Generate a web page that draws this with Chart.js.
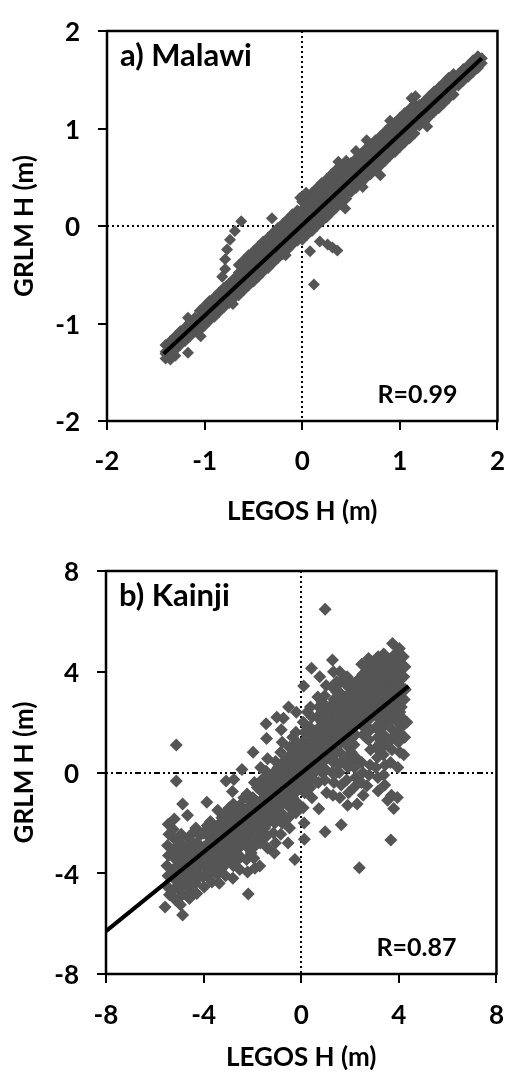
<!DOCTYPE html>
<html>
<head>
<meta charset="utf-8">
<script src="https://cdn.jsdelivr.net/npm/chart.js@4.4.1/dist/chart.umd.min.js"></script>
<style>
  html, body { margin: 0; padding: 0; background: #fff; }
  #wrap { position: relative; width: 524px; height: 1073px; overflow: hidden; }
  canvas { position: absolute; left: 0; }
</style>
</head>
<body>
<div id="wrap">
  <canvas id="malawi" width="524" height="540" style="top:0"></canvas>
  <canvas id="kainji" width="524" height="533" style="top:540px"></canvas>
</div>
<script>
// ---- Malawi: LEGOS vs GRLM water height anomalies (m) ----
const malawiTicks = [-2, -1, 0, 1, 2];
const malawiFit = [[-1.42, -1.31], [1.84, 1.72]];
const malawiR = 'R=0.99';
const malawiPoints = [
  [-1.40,-1.31],[-1.35,-1.37],[-1.30,-1.33],
  [-1.40,-1.22],[-1.40,-1.29],[-1.40,-1.36],
  [-1.35,-1.18],[-1.35,-1.25],[-1.35,-1.32],
  [-1.30,-1.13],[-1.30,-1.20],[-1.30,-1.27],
  [-1.25,-1.08],[-1.25,-1.15],[-1.25,-1.22],
  [-1.20,-1.04],[-1.20,-1.11],[-1.20,-1.18],
  [-1.15,-0.99],[-1.15,-1.06],[-1.15,-1.13],
  [-1.10,-0.94],[-1.10,-1.01],[-1.10,-1.08],
  [-1.05,-0.87],[-1.05,-0.94],[-1.05,-1.01],[-1.05,-1.07],
  [-1.00,-0.82],[-1.00,-0.89],[-1.00,-0.96],[-1.00,-1.02],
  [-0.95,-0.77],[-0.95,-0.84],[-0.95,-0.91],[-0.95,-0.97],
  [-0.90,-0.73],[-0.90,-0.80],[-0.90,-0.87],[-0.90,-0.93],
  [-0.85,-0.68],[-0.85,-0.75],[-0.85,-0.82],[-0.85,-0.88],
  [-0.80,-0.63],[-0.80,-0.70],[-0.80,-0.77],[-0.80,-0.83],
  [-0.75,-0.59],[-0.75,-0.66],[-0.75,-0.73],[-0.75,-0.79],
  [-0.70,-0.54],[-0.70,-0.61],[-0.70,-0.68],[-0.70,-0.74],
  [-0.65,-0.40],[-0.65,-0.48],[-0.65,-0.56],[-0.65,-0.64],[-0.65,-0.71],
  [-0.60,-0.35],[-0.60,-0.43],[-0.60,-0.51],[-0.60,-0.59],[-0.60,-0.66],
  [-0.55,-0.30],[-0.55,-0.38],[-0.55,-0.46],[-0.55,-0.54],[-0.55,-0.61],
  [-0.50,-0.26],[-0.50,-0.34],[-0.50,-0.42],[-0.50,-0.50],[-0.50,-0.57],
  [-0.45,-0.21],[-0.45,-0.29],[-0.45,-0.37],[-0.45,-0.45],[-0.45,-0.52],
  [-0.40,-0.16],[-0.40,-0.24],[-0.40,-0.32],[-0.40,-0.40],[-0.40,-0.47],
  [-0.35,-0.12],[-0.35,-0.20],[-0.35,-0.28],[-0.35,-0.36],[-0.35,-0.43],
  [-0.30,-0.07],[-0.30,-0.15],[-0.30,-0.23],[-0.30,-0.31],[-0.30,-0.38],
  [-0.25,-0.02],[-0.25,-0.10],[-0.25,-0.18],[-0.25,-0.26],[-0.25,-0.33],
  [-0.20,0.02],[-0.20,-0.06],[-0.20,-0.14],[-0.20,-0.22],[-0.20,-0.29],
  [-0.15,0.07],[-0.15,-0.01],[-0.15,-0.09],[-0.15,-0.17],[-0.15,-0.24],
  [-0.10,0.12],[-0.10,0.04],[-0.10,-0.04],[-0.10,-0.12],[-0.10,-0.19],
  [-0.05,0.16],[-0.05,0.08],[-0.05,0.00],[-0.05,-0.08],[-0.05,-0.15],
  [0.00,0.25],[0.00,0.17],[0.00,0.09],[0.00,0.01],[0.00,-0.07],[0.00,-0.14],
  [0.05,0.30],[0.05,0.22],[0.05,0.14],[0.05,0.06],[0.05,-0.02],[0.05,-0.09],
  [0.10,0.34],[0.10,0.26],[0.10,0.18],[0.10,0.10],[0.10,0.02],[0.10,-0.05],
  [0.15,0.39],[0.15,0.31],[0.15,0.23],[0.15,0.15],[0.15,0.07],[0.15,0.00],
  [0.20,0.44],[0.20,0.36],[0.20,0.28],[0.20,0.20],[0.20,0.12],[0.20,0.05],
  [0.25,0.48],[0.25,0.40],[0.25,0.32],[0.25,0.24],[0.25,0.16],[0.25,0.09],
  [0.30,0.53],[0.30,0.45],[0.30,0.37],[0.30,0.29],[0.30,0.21],[0.30,0.14],
  [0.35,0.58],[0.35,0.50],[0.35,0.42],[0.35,0.34],[0.35,0.26],[0.35,0.19],
  [0.40,0.62],[0.40,0.54],[0.40,0.46],[0.40,0.38],[0.40,0.30],[0.40,0.23],
  [0.45,0.67],[0.45,0.59],[0.45,0.51],[0.45,0.43],[0.45,0.35],[0.45,0.28],
  [0.50,0.65],[0.50,0.57],[0.50,0.49],[0.50,0.42],[0.50,0.35],
  [0.55,0.69],[0.55,0.61],[0.55,0.53],[0.55,0.46],[0.55,0.39],
  [0.60,0.74],[0.60,0.66],[0.60,0.58],[0.60,0.51],[0.60,0.44],
  [0.65,0.79],[0.65,0.71],[0.65,0.63],[0.65,0.56],[0.65,0.49],
  [0.70,0.83],[0.70,0.75],[0.70,0.67],[0.70,0.60],[0.70,0.53],
  [0.75,0.88],[0.75,0.80],[0.75,0.72],[0.75,0.65],[0.75,0.58],
  [0.80,0.92],[0.80,0.84],[0.80,0.76],[0.80,0.69],[0.80,0.62],
  [0.85,0.97],[0.85,0.89],[0.85,0.81],[0.85,0.74],[0.85,0.67],
  [0.90,1.02],[0.90,0.94],[0.90,0.86],[0.90,0.79],[0.90,0.72],
  [0.95,1.06],[0.95,0.98],[0.95,0.90],[0.95,0.83],[0.95,0.76],
  [1.00,1.11],[1.00,1.03],[1.00,0.95],[1.00,0.88],[1.00,0.81],
  [1.05,1.16],[1.05,1.08],[1.05,1.00],[1.05,0.93],[1.05,0.86],
  [1.10,1.20],[1.10,1.12],[1.10,1.04],[1.10,0.97],[1.10,0.90],
  [1.15,1.25],[1.15,1.17],[1.15,1.09],[1.15,1.02],[1.15,0.95],
  [1.20,1.24],[1.20,1.17],[1.20,1.10],[1.20,1.03],
  [1.25,1.28],[1.25,1.21],[1.25,1.14],[1.25,1.07],
  [1.30,1.33],[1.30,1.26],[1.30,1.19],[1.30,1.12],
  [1.35,1.38],[1.35,1.31],[1.35,1.24],[1.35,1.17],
  [1.40,1.42],[1.40,1.35],[1.40,1.28],[1.40,1.21],
  [1.45,1.47],[1.45,1.40],[1.45,1.33],[1.45,1.26],
  [1.50,1.52],[1.50,1.45],[1.50,1.38],[1.50,1.31],
  [1.55,1.56],[1.55,1.49],[1.55,1.42],[1.55,1.35],
  [1.60,1.56],[1.60,1.50],[1.60,1.44],
  [1.65,1.61],[1.65,1.55],[1.65,1.49],
  [1.70,1.65],[1.70,1.59],[1.70,1.53],
  [1.75,1.70],[1.75,1.64],[1.75,1.58],
  [1.80,1.74],[1.80,1.68],[1.80,1.62],
  [1.84,1.72],[1.84,1.67],
  // off-band points
  [-1.17,-0.94],[-1.14,-0.98],[-1.17,-1.30],[-1.04,-1.13],[-0.71,-0.80],[-0.17,-0.30],
  [-0.625,0.05],[-0.69,-0.05],[-0.74,-0.14],[-0.77,-0.24],[-0.79,-0.34],[-0.79,-0.44],[-0.82,-0.52],
  [-0.31,0.08],
  [0.08,-0.26],[0.18,-0.16],[0.26,-0.19],[0.31,-0.22],[0.36,-0.25],[0.12,-0.60],
  [0.44,0.18],[0.80,0.52],[0.37,0.66],[0.66,0.88],[1.12,1.31],[1.16,1.33],[0.04,0.34],
  [0.90,1.08],[0.55,0.77],[-0.02,0.29],[1.28,1.02],[0.62,0.40]
];

// ---- Kainji: LEGOS vs GRLM water height anomalies (m) ----
const kainjiTicks = [-8, -4, 0, 4, 8];
const kainjiFit = [[-8, -6.3], [4.4, 3.43]];
const kainjiR = 'R=0.87';
const kainjiPoints = [
  [-5.45,-2.05],[-5.42,-2.45],[-5.48,-2.90],[-5.44,-3.30],[-5.50,-3.70],[-5.46,-4.10],[-5.52,-4.50],[-5.40,-4.85],[-5.58,-5.34],
  [-5.12,1.09],[-5.12,-0.34],[-5.20,-1.85],[-5.25,-2.25],[-5.18,-2.65],[-5.22,-3.05],[-5.15,-3.45],[-5.24,-3.85],[-5.18,-4.25],[-5.22,-4.65],[-5.16,-5.05],
  [-5.05,-2.60],[-5.05,-3.00],[-5.05,-3.40],[-5.05,-3.80],[-5.05,-4.20],[-5.05,-4.60],[-5.05,-5.00],
  [-4.86,-1.25],[-4.92,-2.45],[-4.88,-2.85],[-4.95,-3.25],[-4.90,-3.65],[-4.86,-4.05],[-4.93,-4.45],[-4.88,-4.85],[-4.95,-5.25],[-4.86,-5.66],
  [-4.75,-3.20],[-4.75,-3.60],[-4.75,-4.00],[-4.75,-4.40],
  [-4.66,-1.70],[-4.62,-2.60],[-4.58,-3.00],[-4.64,-3.40],[-4.60,-3.80],[-4.56,-4.20],[-4.63,-4.60],[-4.58,-5.00],
  [-4.45,-2.40],[-4.45,-2.80],[-4.45,-3.20],[-4.45,-3.60],[-4.45,-4.00],[-4.45,-4.40],[-4.45,-4.80],
  [-4.32,-2.20],[-4.28,-2.80],[-4.35,-3.20],[-4.30,-3.60],[-4.26,-4.00],[-4.33,-4.40],[-4.28,-4.80],
  [-4.15,-2.50],[-4.15,-2.90],[-4.15,-3.30],[-4.15,-3.70],[-4.15,-4.10],
  [-3.87,-1.18],[-4.02,-2.40],[-3.98,-2.95],[-4.04,-3.35],[-3.96,-3.75],[-4.02,-4.15],[-3.98,-4.55],
  [-3.85,-2.10],[-3.85,-2.50],[-3.85,-2.90],[-3.85,-3.30],[-3.85,-3.70],[-3.85,-4.10],
  [-3.72,-1.95],[-3.68,-2.35],[-3.74,-2.75],[-3.66,-3.15],[-3.72,-3.55],[-3.68,-3.95],[-3.66,-4.35],
  [-3.55,-2.20],[-3.55,-2.60],[-3.55,-3.00],[-3.55,-3.40],[-3.55,-3.80],
  [-3.42,-1.50],[-3.38,-2.05],[-3.44,-2.45],[-3.36,-2.85],[-3.42,-3.25],[-3.38,-3.65],[-3.44,-4.05],[-3.36,-4.40],
  [-3.25,-1.80],[-3.25,-2.20],[-3.25,-2.60],[-3.25,-3.00],[-3.25,-3.40],[-3.25,-3.80],
  [-3.08,-0.34],[-3.12,-1.60],[-3.06,-2.00],[-3.14,-2.40],[-3.08,-2.80],[-3.12,-3.20],[-3.06,-3.60],[-3.10,-4.10],
  [-2.95,-1.40],[-2.95,-1.80],[-2.95,-2.20],[-2.95,-2.60],[-2.95,-3.00],[-2.95,-3.40],
  [-2.76,-0.28],[-2.82,-0.75],[-2.78,-1.25],[-2.84,-1.70],[-2.78,-2.10],[-2.82,-2.50],[-2.76,-2.90],[-2.84,-3.30],[-2.78,-3.70],[-2.80,-4.20],
  [-2.65,-1.50],[-2.65,-1.90],[-2.65,-2.30],[-2.65,-2.70],[-2.65,-3.10],[-2.65,-3.50],
  [-2.43,0.12],[-2.52,-1.30],[-2.48,-1.75],[-2.54,-2.15],[-2.46,-2.55],[-2.52,-2.95],[-2.48,-3.35],[-2.52,-3.85],
  [-2.35,-1.00],[-2.35,-1.60],[-2.35,-2.00],[-2.35,-2.40],[-2.35,-2.80],
  [-2.22,-0.85],[-2.18,-1.40],[-2.24,-1.80],[-2.16,-2.20],[-2.22,-2.60],[-2.18,-3.00],[-2.24,-3.45],[-2.20,-3.95],[-2.17,-4.82],
  [-2.05,-1.20],[-2.05,-1.60],[-2.05,-2.00],[-2.05,-2.40],[-2.05,-2.80],[-2.05,-3.20],
  [-1.97,0.80],[-1.92,-0.40],[-1.98,-1.00],[-1.94,-1.40],[-1.90,-1.80],[-1.96,-2.20],[-1.92,-2.60],[-1.98,-3.00],[-1.94,-3.40],[-1.90,-3.80],
  [-1.80,-0.60],[-1.80,-1.20],[-1.80,-1.60],[-1.80,-2.00],[-1.80,-2.40],
  [-1.66,0.20],[-1.62,-0.30],[-1.68,-0.70],[-1.64,-1.10],[-1.60,-1.50],[-1.66,-1.90],[-1.62,-2.30],[-1.68,-2.80],[-1.70,-3.71],
  [-1.50,-0.20],[-1.50,-0.60],[-1.50,-1.00],[-1.50,-1.40],[-1.50,-1.80],[-1.50,-2.20],[-1.50,-2.60],
  [-1.44,1.94],[-1.42,1.35],[-1.38,0.55],[-1.44,0.05],[-1.36,-0.40],[-1.42,-0.80],[-1.38,-1.20],[-1.44,-1.60],[-1.36,-2.00],[-1.42,-2.50],[-1.38,-3.00],
  [-1.25,-0.20],[-1.25,-0.60],[-1.25,-1.00],[-1.25,-1.40],[-1.25,-1.80],
  [-1.00,2.19],[-1.05,0.44],[-1.12,0.00],[-1.08,-0.40],[-1.14,-0.80],[-1.06,-1.20],[-1.12,-1.60],[-1.08,-2.00],[-1.14,-2.40],[-1.06,-2.80],[-1.10,-3.20],
  [-0.95,0.20],[-0.95,-0.20],[-0.95,-0.60],[-0.95,-1.00],[-0.95,-1.40],[-0.95,-1.80],
  [-0.73,2.15],[-0.82,1.70],[-0.78,1.20],[-0.84,0.80],[-0.76,0.40],[-0.82,0.00],[-0.78,-0.40],[-0.84,-0.80],[-0.76,-1.20],[-0.82,-1.60],[-0.78,-2.00],[-0.84,-2.45],
  [-0.65,0.40],[-0.65,0.00],[-0.65,-0.40],[-0.65,-0.80],[-0.65,-1.20],
  [-0.52,2.60],[-0.48,1.00],[-0.54,0.60],[-0.46,0.20],[-0.52,-0.20],[-0.48,-0.60],[-0.54,-1.00],[-0.46,-1.40],[-0.52,-1.80],[-0.48,-2.20],[-0.54,-2.80],
  [-0.35,1.40],[-0.35,1.00],[-0.35,0.60],[-0.35,0.20],[-0.35,-0.20],[-0.35,-0.60],[-0.35,-1.00],
  [-0.20,2.39],[-0.22,1.60],[-0.18,1.20],[-0.24,0.80],[-0.16,0.40],[-0.22,0.00],[-0.18,-0.40],[-0.24,-0.80],[-0.16,-1.20],[-0.22,-1.60],[-0.26,-3.45],
  [-0.05,1.00],[-0.05,0.60],[-0.05,0.20],[-0.05,-0.20],[-0.05,-0.60],
  [0.10,3.43],[0.08,2.00],[0.12,1.60],[0.06,1.20],[0.14,0.80],[0.08,0.40],[0.12,0.00],[0.06,-0.40],[0.14,-0.80],[0.08,-1.40],[0.12,-2.00],[0.13,-2.65],
  [0.25,2.40],[0.25,1.60],[0.25,1.20],[0.25,0.80],[0.25,0.40],[0.25,0.00],[0.25,-0.40],
  [0.42,4.14],[0.38,2.60],[0.44,2.20],[0.36,1.80],[0.42,1.40],[0.38,1.00],[0.44,0.60],[0.36,0.20],[0.42,-0.20],[0.38,-0.60],[0.44,-1.00],
  [0.55,1.60],[0.55,1.20],[0.55,0.80],[0.55,0.40],[0.55,0.00],
  [0.76,3.80],[0.68,3.00],[0.72,2.60],[0.66,2.20],[0.74,1.80],[0.68,1.40],[0.72,1.00],[0.66,0.60],[0.74,0.20],[0.70,-0.40],[0.72,-1.44],
  [0.85,2.80],[0.85,2.40],[0.85,2.00],[0.85,1.60],[0.85,1.20],[0.85,0.80],[0.85,0.40],[0.85,0.00],
  [0.98,6.48],[1.02,3.45],[0.96,3.05],[1.04,2.50],[0.98,2.10],[1.02,1.70],[0.96,1.30],[1.04,0.90],[0.98,0.50],[1.02,0.10],[0.96,-0.30],[1.04,-0.80],[0.98,-2.35],
  [1.15,2.60],[1.15,2.20],[1.15,1.80],[1.15,1.40],[1.15,1.00],[1.15,0.60],
  [1.28,4.47],[1.32,4.00],[1.26,3.40],[1.34,2.90],[1.28,2.40],[1.32,2.00],[1.26,1.60],[1.34,1.20],[1.28,0.80],[1.32,0.40],[1.26,0.00],[1.34,-0.40],[1.30,-0.90],
  [1.45,3.60],[1.45,3.20],[1.45,2.80],[1.45,2.40],[1.45,2.00],[1.45,1.60],[1.45,1.20],[1.45,0.80],[1.45,0.40],[1.45,0.00],
  [1.58,4.00],[1.62,3.60],[1.56,3.20],[1.64,2.80],[1.58,2.40],[1.62,2.00],[1.56,1.60],[1.64,1.20],[1.58,0.80],[1.62,0.40],[1.56,0.00],[1.64,-0.50],[1.58,-1.00],[1.64,-2.07],
  [1.75,3.00],[1.75,2.60],[1.75,2.20],[1.75,1.80],[1.75,1.40],
  [1.88,3.80],[1.92,3.40],[1.86,3.00],[1.94,2.60],[1.88,2.20],[1.92,1.80],[1.86,1.40],[1.94,1.00],[1.88,0.60],[1.92,0.20],[1.86,-0.30],[1.94,-0.80],[1.90,-1.30],
  [2.05,3.60],[2.05,3.20],[2.05,2.80],[2.05,2.40],[2.05,2.00],[2.05,1.60],[2.05,1.20],[2.05,0.80],[2.05,0.40],
  [2.18,3.50],[2.22,3.10],[2.16,2.70],[2.24,2.30],[2.18,1.90],[2.22,1.50],[2.16,1.10],[2.24,0.60],[2.18,0.20],[2.22,-0.20],[2.16,-0.60],[2.29,-1.25],
  [2.35,3.70],[2.35,3.30],[2.35,2.90],[2.35,2.50],[2.35,2.10],
  [2.48,4.30],[2.52,3.90],[2.46,3.50],[2.54,3.10],[2.48,2.70],[2.52,2.30],[2.46,1.90],[2.54,1.50],[2.48,0.40],[2.52,0.00],[2.46,-0.40],[2.54,-0.90],[2.38,-3.78],
  [2.65,4.20],[2.65,3.80],[2.65,3.40],[2.65,3.00],[2.65,2.60],[2.65,2.20],[2.65,1.80],[2.65,1.40],
  [2.76,4.53],[2.82,4.10],[2.78,3.70],[2.84,3.30],[2.76,2.90],[2.82,2.50],[2.78,2.10],[2.84,1.70],[2.76,1.30],[2.84,0.90],[2.82,0.30],[2.78,-0.10],[2.69,-0.53],
  [2.95,4.40],[2.95,4.00],[2.95,3.60],[2.95,3.20],[2.95,2.80],[2.95,2.40],
  [3.15,4.60],[3.08,4.20],[3.12,3.80],[3.06,3.40],[3.14,3.00],[3.08,2.60],[3.12,2.20],[3.06,1.80],[3.14,1.40],[3.08,1.00],[3.12,0.60],[3.06,0.20],[3.14,-0.20],[3.15,-0.73],
  [3.25,4.40],[3.25,4.00],[3.25,3.60],[3.25,3.20],[3.25,2.80],[3.25,2.40],[3.25,2.00],[3.25,1.60],[3.25,1.20],[3.25,0.80],
  [3.38,4.70],[3.42,4.30],[3.36,3.90],[3.44,3.50],[3.38,3.10],[3.42,2.70],[3.36,2.30],[3.44,1.90],[3.38,1.50],[3.42,1.10],[3.36,0.70],[3.44,0.30],[3.38,-0.10],[3.42,-0.50],[3.54,-1.10],
  [3.55,4.50],[3.55,4.10],[3.55,3.70],[3.55,3.30],[3.55,2.90],[3.55,2.50],[3.55,2.10],
  [3.74,5.12],[3.68,4.50],[3.72,4.10],[3.66,3.70],[3.74,3.30],[3.68,2.90],[3.72,2.50],[3.66,2.10],[3.74,1.70],[3.68,1.30],[3.72,0.90],[3.66,0.40],[3.70,-0.90],[3.79,-1.43],[3.67,-2.68],
  [3.85,4.70],[3.85,4.30],[3.85,3.90],[3.85,3.50],[3.85,3.10],[3.85,2.70],[3.85,2.30],[3.85,1.50],
  [4.02,4.92],[3.98,4.40],[4.04,4.00],[3.96,3.60],[4.02,3.20],[3.98,2.80],[4.04,2.40],[3.96,2.00],[4.02,1.60],[3.98,1.20],[4.04,0.80],[3.96,0.20],[3.94,-0.99],
  [4.10,4.60],[4.10,4.20],[4.10,3.80],[4.10,3.40],[4.10,3.00],[4.10,2.60],[4.10,2.20],[4.10,1.80],
  [4.18,4.60],[4.25,4.20],[4.20,3.80],[4.26,3.30],[4.22,2.90],[4.33,2.00],[4.24,1.40],[4.20,0.70]
];

const FONT = 'Lato, "DejaVu Sans", sans-serif';
const POINT_COLOR = '#555555';

// Outer box around the plot area
const framePlugin = {
  id: 'frame',
  afterDatasetsDraw(chart) {
    const { ctx, chartArea: a } = chart;
    ctx.save();
    ctx.strokeStyle = '#000';
    ctx.lineWidth = 2.5;
    ctx.strokeRect(a.left, a.top, a.right - a.left, a.bottom - a.top);
    ctx.restore();
  }
};

// Panel name (top-left) and correlation (bottom-right) inside the plot
const panelTextPlugin = {
  id: 'panelText',
  afterDraw(chart, args, opts) {
    const { ctx, chartArea: a } = chart;
    ctx.save();
    ctx.fillStyle = '#000';
    ctx.textBaseline = 'middle';
    ctx.textAlign = 'left';
    ctx.font = 'bold 31px ' + FONT;
    ctx.fillText(opts.label, a.left + 13, a.top + 25);
    ctx.textAlign = 'right';
    ctx.font = 'bold 25px ' + FONT;
    ctx.fillText(opts.r, a.right - 40, a.bottom - 26);
    ctx.restore();
  }
};

function axis(ticks, opts) {
  const tickFont = { family: FONT, size: 26, weight: 'bold', lineHeight: 1 };
  return {
    type: 'linear',
    min: ticks[0],
    max: ticks[ticks.length - 1],
    afterBuildTicks: (s) => { s.ticks = ticks.map(v => ({ value: v })); },
    ticks: {
      color: '#000',
      font: tickFont,
      padding: opts.tickPad,
      labelOffset: opts.labelOffset || 0
    },
    grid: {
      color: (c) => (c.tick && c.tick.value === 0 ? '#000' : 'rgba(0,0,0,0)'),
      lineWidth: 2,
      tickLength: 9,
      tickWidth: 2,
      tickColor: '#000',
      drawOnChartArea: true
    },
    border: { display: false, dash: opts.dash },
    title: {
      display: true,
      text: opts.title,
      color: '#000',
      font: { family: FONT, size: 26, weight: 'bold', lineHeight: 1.2 },
      padding: opts.titlePad
    },
    afterFit: opts.fit
  };
}

function panel(id, cfg) {
  return new Chart(document.getElementById(id), {
    type: 'scatter',
    data: {
      datasets: [
        {
          data: cfg.fit.map(p => ({ x: p[0], y: p[1] })),
          showLine: true,
          borderColor: '#000',
          borderWidth: 4,
          pointRadius: 0,
          order: 0
        },
        {
          data: cfg.points.map(p => ({ x: p[0], y: p[1] })),
          pointStyle: 'rectRot',
          pointRadius: cfg.radius,
          pointBorderWidth: 0,
          backgroundColor: POINT_COLOR,
          borderColor: POINT_COLOR,
          order: 1
        }
      ]
    },
    options: {
      responsive: false,
      animation: false,
      devicePixelRatio: 1,
      layout: { padding: cfg.padding },
      plugins: {
        legend: { display: false },
        tooltip: { enabled: false },
        panelText: { label: cfg.label, r: cfg.r }
      },
      scales: {
        x: axis(cfg.ticks, {
          title: 'LEGOS H (m)', tickPad: cfg.xTickPad, dash: [2, 3],
          titlePad: { top: 0, bottom: cfg.xTitlePad },
          fit: (s) => { s.height = cfg.xHeight; }
        }),
        y: axis(cfg.ticks, {
          title: 'GRLM H (m)', tickPad: 18, labelOffset: 2, dash: cfg.yDash,
          titlePad: { top: 9, bottom: 0 },
          fit: (s) => { s.width = cfg.yWidth; }
        })
      }
    },
    plugins: [framePlugin, panelTextPlugin]
  });
}

function drawAll() {
  panel('malawi', {
    points: malawiPoints, fit: malawiFit, ticks: malawiTicks,
    label: 'a) Malawi', r: malawiR, radius: 6,
    padding: { top: 13, right: 12, left: 0, bottom: 0 },
    xHeight: 119, yWidth: 107, xTickPad: 19, xTitlePad: 13, yDash: [2, 3]
  });
  panel('kainji', {
    points: kainjiPoints, fit: kainjiFit, ticks: kainjiTicks,
    label: 'b) Kainji', r: kainjiR, radius: 6.5,
    padding: { top: 23, right: 12, left: 0, bottom: 0 },
    xHeight: 99, yWidth: 106, xTickPad: 20, xTitlePad: 0, yDash: [2, 3, 2, 3, 6, 3]
  });
}

if (document.fonts && document.fonts.load) {
  Promise.all([
    document.fonts.load('bold 26px Lato'),
    document.fonts.load('bold 31px Lato')
  ]).then(drawAll, drawAll);
} else {
  drawAll();
}
</script>
</body>
</html>
